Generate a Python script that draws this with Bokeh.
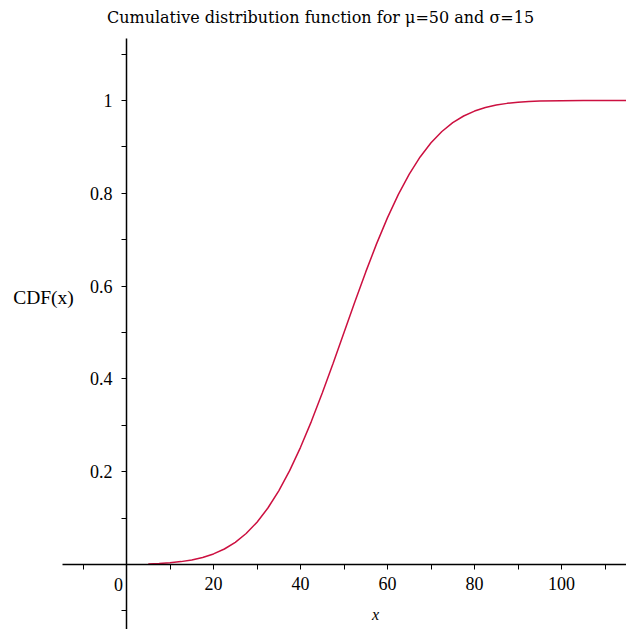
from bokeh.plotting import figure
from bokeh.models import (LinearAxis, FixedTicker, PrintfTickFormatter, Label,
                          Range1d, ColumnDataSource)
from bokeh.embed import file_html
from bokeh.resources import INLINE

# Data (normal CDF, mu=50, sigma=15)
x_vals = [5, 7.5, 10, 12.5, 15, 17.5, 20, 22.5, 25, 27.5, 30, 32.5, 35, 37.5,
          40, 42.5, 45, 47.5, 50, 52.5, 55, 57.5, 60, 62.5, 65, 67.5, 70, 72.5,
          75, 77.5, 80, 82.5, 85, 87.5, 90, 92.5, 95, 100, 105, 110, 115]
cdf_vals = [0.0013, 0.0023, 0.0038, 0.0062, 0.0098, 0.0151, 0.0228, 0.0334,
            0.0478, 0.0668, 0.0912, 0.1217, 0.1587, 0.2023, 0.2525, 0.3085,
            0.3694, 0.4338, 0.5000, 0.5662, 0.6306, 0.6915, 0.7475, 0.7977,
            0.8413, 0.8783, 0.9088, 0.9332, 0.9522, 0.9666, 0.9772, 0.9849,
            0.9902, 0.9938, 0.9962, 0.9977, 0.9987, 0.9996, 0.9999, 1.0, 1.0]

x_major_ticks = [20, 40, 60, 80, 100]
x_minor_ticks = [-10, 10, 30, 50, 70, 90, 110]
y_major_ticks = [0.2, 0.4, 0.6, 0.8, 1.0]
y_minor_ticks = [-0.1, 0.1, 0.3, 0.5, 0.7, 0.9, 1.1]

title_text = "Cumulative distribution function for \u03bc=50 and \u03c3=15"
font = "Liberation Serif"

p = figure(width=626, height=629, output_backend="svg", toolbar_location=None,
           x_range=Range1d(-28.97, 114.94), y_range=Range1d(-0.1401, 1.2155),
           x_axis_location=None, y_axis_location=None,
           min_border_left=0, min_border_top=0, min_border_right=0,
           min_border_bottom=0)
p.outline_line_color = None
p.grid.grid_line_color = None
p.background_fill_color = "white"
p.border_fill_color = "white"

xaxis = LinearAxis(fixed_location=0, bounds=(-14.7, 115),
                   ticker=FixedTicker(ticks=x_major_ticks, minor_ticks=x_minor_ticks),
                   formatter=PrintfTickFormatter(format="%g"))
yaxis = LinearAxis(fixed_location=0, bounds=(-0.15, 1.134),
                   ticker=FixedTicker(ticks=y_major_ticks, minor_ticks=y_minor_ticks),
                   formatter=PrintfTickFormatter(format="%g"))
for ax in (xaxis, yaxis):
    ax.axis_line_width = 1.5
    ax.axis_line_color = "black"
    ax.major_tick_in = 0
    ax.minor_tick_in = 0
    ax.major_tick_out = 5
    ax.minor_tick_out = 5
    ax.major_tick_line_color = "black"
    ax.minor_tick_line_color = "black"
    ax.major_label_text_font = font
    ax.major_label_text_font_size = "18px"
    ax.major_label_text_color = "black"
xaxis.major_label_standoff = 8
yaxis.major_label_standoff = 9
p.add_layout(xaxis, "below")
p.add_layout(yaxis, "left")

src = ColumnDataSource(dict(x=x_vals, y=cdf_vals))
p.line("x", "y", source=src, line_color="#cc1040", line_width=1.5)

p.add_layout(Label(x=44.6, y=1.179, text=title_text, text_font="DejaVu Serif",
                   text_font_size="16px", text_align="center",
                   text_baseline="middle", text_color="black"))
p.add_layout(Label(x=-19.08, y=0.5754, text="CDF(x)", text_font=font,
                   text_font_size="19.5px", text_align="center",
                   text_baseline="middle", text_color="black"))
p.add_layout(Label(x=-1.84, y=-0.043, text="0", text_font=font,
                   text_font_size="18px", text_align="center",
                   text_baseline="middle", text_color="black"))
p.add_layout(Label(x=57.24, y=-0.1078, text="x", text_font=font,
                   text_font_size="16px", text_font_style="italic",
                   text_align="center", text_baseline="middle",
                   text_color="black"))

open("out.html", "w").write(file_html(p, INLINE))
